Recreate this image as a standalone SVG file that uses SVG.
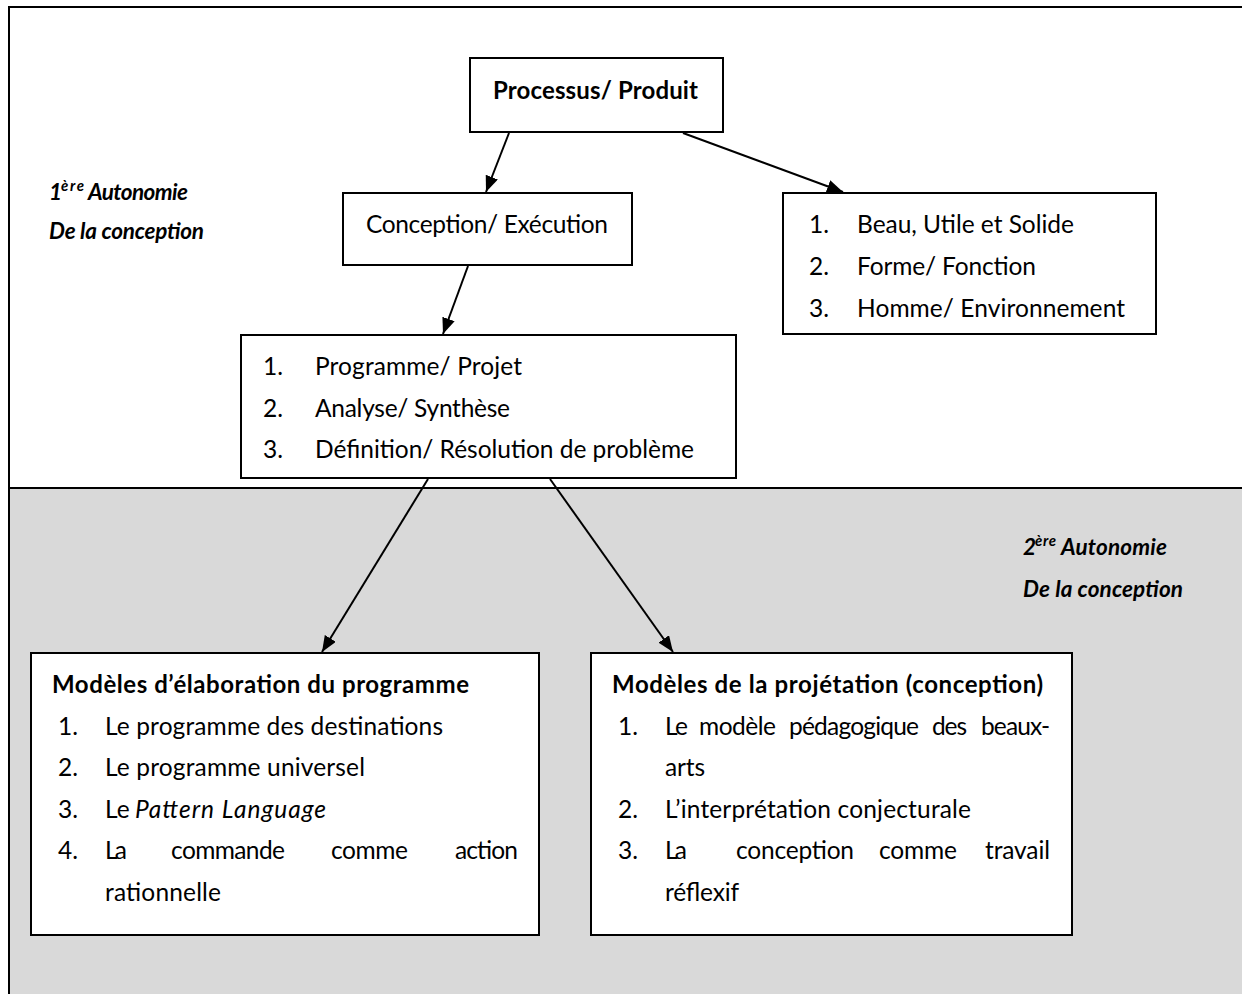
<svg xmlns="http://www.w3.org/2000/svg" width="1242" height="994" viewBox="0 0 1242 994">
<defs>
<marker id="ah" markerUnits="userSpaceOnUse" viewBox="0 0 16 13" refX="16" refY="6.5" markerWidth="16" markerHeight="13" orient="auto"><path d="M0,0 L16,6.5 L0,13 z" fill="#000"/></marker>
<style>
.box{fill:#fff;stroke:#000;stroke-width:2}
text{font-family:Lato,"Open Sans","Liberation Sans",sans-serif;font-size:24.5px;fill:#000}
.b{font-weight:bold;font-size:24px}
.bi{font-weight:bold;font-style:italic;font-size:22.5px}
.i{font-style:italic}
.sup{font-weight:bold;font-style:italic;font-size:15px}
.conn line{stroke:#000;stroke-width:2;marker-end:url(#ah)}
.frame{fill:none;stroke:#000;stroke-width:2}
</style>
</defs>
<rect x="0" y="0" width="1242" height="994" fill="#fff"/>
<g id="background">
<rect x="9" y="488" width="1233" height="506" fill="#d9d9d9"/>
<path class="frame" d="M9,994 V7 H1242"/>
<line class="frame" x1="9" y1="488" x2="1242" y2="488"/>
</g>
<g id="label-1">
<text class="bi" x="49" y="200">1</text>
<text class="sup" x="61" y="191" textLength="23">ère</text>
<text class="bi" x="88" y="200" textLength="100">Autonomie</text>
<text class="bi" x="49" y="239" textLength="155">De la conception</text>
</g>
<g id="label-2">
<text class="bi" x="1023" y="555">2</text>
<text class="sup" x="1035" y="546" textLength="21">ère</text>
<text class="bi" x="1061" y="555" textLength="106">Autonomie</text>
<text class="bi" x="1023" y="597" textLength="160">De la conception</text>
</g>
<g class="conn" id="connectors">
<line x1="509" y1="133" x2="486" y2="192"/>
<line x1="683" y1="133" x2="843" y2="192"/>
<line x1="468" y1="266" x2="443" y2="334"/>
<line x1="428" y1="479" x2="322" y2="652"/>
<line x1="550" y1="479" x2="673" y2="652"/>
</g>
<g id="node-processus">
<rect class="box" x="470" y="58" width="253" height="74"/>
<text class="b" x="493" y="99" textLength="205">Processus/ Produit</text>
</g>
<g id="node-conception">
<rect class="box" x="343" y="193" width="289" height="72"/>
<text x="366" y="233" textLength="242">Conception/ Exécution</text>
</g>
<g id="node-beau">
<rect class="box" x="783" y="193" width="373" height="141"/>
<text x="809" y="233">1.</text>
<text x="857" y="233" textLength="217">Beau, Utile et Solide</text>
<text x="809" y="275">2.</text>
<text x="857" y="275" textLength="179">Forme/ Fonction</text>
<text x="809" y="317">3.</text>
<text x="857" y="317" textLength="268">Homme/ Environnement</text>
</g>
<g id="node-programme">
<rect class="box" x="241" y="335" width="495" height="143"/>
<text x="263" y="375">1.</text>
<text x="315" y="375" textLength="207">Programme/ Projet</text>
<text x="263" y="417">2.</text>
<text x="315" y="417" textLength="195">Analyse/ Synthèse</text>
<text x="263" y="458">3.</text>
<text x="315" y="458" textLength="379">Définition/ Résolution de problème</text>
</g>
<g id="node-elaboration">
<rect class="box" x="31" y="653" width="508" height="282"/>
<text class="b" x="52" y="693" textLength="417">Modèles d’élaboration du programme</text>
<text x="58" y="735">1.</text>
<text x="105" y="735" textLength="338">Le programme des destinations</text>
<text x="58" y="776">2.</text>
<text x="105" y="776" textLength="260">Le programme universel</text>
<text x="58" y="818">3.</text>
<text x="105" y="818">Le</text>
<text class="i" x="135" y="818" textLength="191">Pattern Language</text>
<text x="58" y="859">4.</text>
<text x="105" y="859" textLength="22">La</text>
<text x="171" y="859" textLength="114">commande</text>
<text x="331" y="859" textLength="77">comme</text>
<text x="455" y="859" textLength="63">action</text>
<text x="105" y="901" textLength="116">rationnelle</text>
</g>
<g id="node-projetation">
<rect class="box" x="591" y="653" width="481" height="282"/>
<text class="b" x="612" y="693" textLength="431">Modèles de la projétation (conception)</text>
<text x="618" y="735">1.</text>
<text x="665" y="735" textLength="23">Le</text>
<text x="699" y="735" textLength="77">modèle</text>
<text x="789" y="735" textLength="130">pédagogique</text>
<text x="932" y="735" textLength="35">des</text>
<text x="981" y="735" textLength="69">beaux-</text>
<text x="665" y="776" textLength="40">arts</text>
<text x="618" y="818">2.</text>
<text x="665" y="818" textLength="306">L’interprétation conjecturale</text>
<text x="618" y="859">3.</text>
<text x="665" y="859" textLength="22">La</text>
<text x="736" y="859" textLength="118">conception</text>
<text x="879" y="859" textLength="78">comme</text>
<text x="985" y="859" textLength="65">travail</text>
<text x="665" y="901" textLength="74">réflexif</text>
</g>
</svg>
